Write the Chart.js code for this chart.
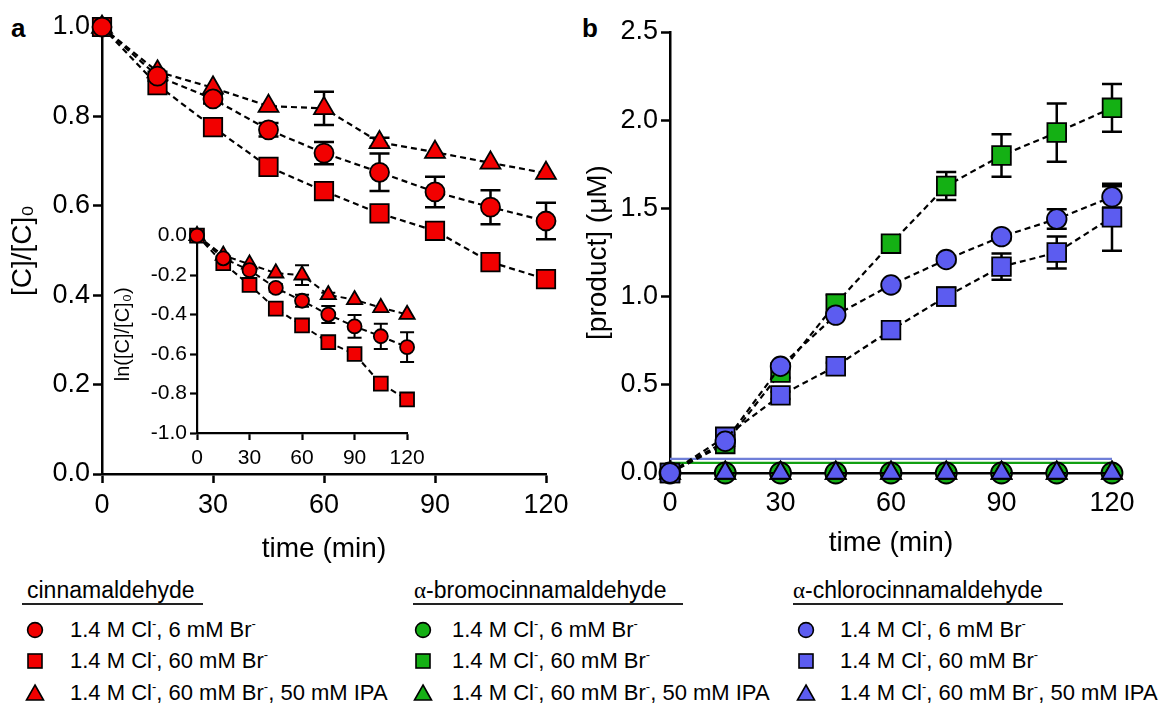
<!DOCTYPE html>
<html><head><meta charset="utf-8">
<script src="https://cdn.jsdelivr.net/npm/chart.js@4.4.1/dist/chart.umd.min.js"></script>
<style>
body{margin:0;background:#fff;width:1167px;height:715px;position:relative;overflow:hidden;font-family:"Liberation Sans",Arial,sans-serif;color:#000;}
canvas{position:absolute;}
.lbl{position:absolute;font-weight:bold;font-size:26px;line-height:30px;}
.hdr{position:absolute;font-size:23px;line-height:26px;white-space:nowrap;}
.ul{position:absolute;height:1.5px;background:#222;}
.item{position:absolute;font-size:22px;line-height:24px;white-space:nowrap;}
.item sup{font-size:13px;vertical-align:9px;line-height:0;}
.mk{position:absolute;}
.alpha{font-family:"Liberation Serif","Times New Roman",serif;}
</style></head>
<body>
<div class="lbl" style="left:11px;top:13px">a</div>
<div class="lbl" style="left:582px;top:13px">b</div>
<canvas id="chartA" width="583" height="570" style="left:0;top:0"></canvas>
<canvas id="chartInset" width="330" height="255" style="left:100px;top:220px"></canvas>
<canvas id="chartB" width="592" height="570" style="left:575px;top:0"></canvas>
<div id="legend"></div>
<script>
const FONT = '"Liberation Sans", Arial, sans-serif';
const RED = '#f20000', GREEN = '#14b014', BLUE = '#5c5cf0';

// ---- data ----
const times = [0, 15, 30, 45, 60, 75, 90, 105, 120];
// panel a: [C]/[C]0 for cinnamaldehyde
const cinCircle    = [1.0, 0.89, 0.839, 0.77, 0.718, 0.675, 0.631, 0.597, 0.566];
const cinCircleErr = [0, 0.01, 0.01, 0.015, 0.025, 0.042, 0.034, 0.038, 0.041];
const cinSquare    = [1.0, 0.87, 0.776, 0.687, 0.633, 0.583, 0.544, 0.474, 0.436];
const cinSquareErr = [0, 0, 0, 0, 0, 0, 0, 0, 0];
const cinTri       = [1.0, 0.90, 0.864, 0.823, 0.818, 0.742, 0.72, 0.696, 0.673];
const cinTriErr    = [0, 0, 0, 0, 0.037, 0.01, 0, 0, 0];
// inset: ln([C]/[C]0)
const lnCircle    = [0, -0.115, -0.175, -0.265, -0.33, -0.40, -0.46, -0.51, -0.565];
const lnCircleErr = [0, 0, 0, 0.02, 0.03, 0.043, 0.058, 0.064, 0.075];
const lnSquare    = [0, -0.14, -0.25, -0.37, -0.455, -0.54, -0.60, -0.75, -0.83];
const lnSquareErr = [0, 0, 0, 0, 0, 0, 0, 0, 0];
const lnTri       = [0, -0.10, -0.145, -0.19, -0.20, -0.30, -0.325, -0.365, -0.40];
const lnTriErr    = [0, 0, 0, 0, 0.05, 0.01, 0, 0, 0];
// panel b: [product] (uM)
const brSquare    = [0, 0.165, 0.57, 0.96, 1.30, 1.627, 1.80, 1.93, 2.07];
const brSquareErr = [0, 0.02, 0.03, 0.05, 0.04, 0.08, 0.12, 0.165, 0.135];
const brCircle    = [0, 0, 0, 0, 0, 0, 0, 0, 0];
const brTri       = [0, 0, 0, 0, 0, 0, 0, 0, 0];
const clCircle    = [0, 0.18, 0.605, 0.895, 1.066, 1.21, 1.34, 1.44, 1.565];
const clCircleErr = [0, 0, 0, 0, 0, 0.02, 0.02, 0.055, 0.06];
const clSquare    = [0, 0.205, 0.44, 0.605, 0.81, 1.0, 1.17, 1.25, 1.45];
const clSquareErr = [0, 0.02, 0.02, 0.02, 0.03, 0.05, 0.075, 0.09, 0.19];
const clTri       = [0, 0, 0, 0, 0, 0, 0, 0, 0];
const lodTimes = [0, 120];
const lodCl = [0.08, 0.08];
const lodBr = [0.057, 0.057];
// tick values
const timeTicks = [0, 30, 60, 90, 120];
const aTicks = [0, 0.2, 0.4, 0.6, 0.8, 1.0];
const insetTicks = [-1.0, -0.8, -0.6, -0.4, -0.2, 0.0];
const bTicks = [0, 0.5, 1.0, 1.5, 2.0, 2.5];
// legend
const groupNames = ['cinnamaldehyde', 'α-bromocinnamaldehyde', 'α-chlorocinnamaldehyde'];
const groupColors = [RED, GREEN, BLUE];
const conditionLabels = ['1.4 M Cl<sup>-</sup>, 6 mM Br<sup>-</sup>', '1.4 M Cl<sup>-</sup>, 60 mM Br<sup>-</sup>', '1.4 M Cl<sup>-</sup>, 60 mM Br<sup>-</sup>, 50 mM IPA'];
const conditionShapes = ['circle', 'rect', 'triangle'];

// ---- helpers ----
function pts(xs, vals) { return xs.map((t, i) => ({x: t, y: vals[i]})); }
function series(label, vals, errs, shape, color, r, extra) {
  return Object.assign({
    label, data: pts(times, vals), errors: errs,
    pointStyle: shape, pointRadius: r, pointHoverRadius: r,
    pointBackgroundColor: color, pointBorderColor: '#000', pointBorderWidth: 1.8,
    borderColor: '#000', borderWidth: 2.2, borderDash: [6, 4], showLine: true,
    fill: false, tension: 0, clip: false
  }, extra || {});
}
const errorBarPlugin = {
  id: 'errorBars',
  beforeDatasetsDraw(chart, args, opts) {
    const {ctx, scales: {x, y}} = chart;
    ctx.save();
    ctx.strokeStyle = '#000';
    ctx.lineWidth = opts.width || 2.5;
    chart.data.datasets.forEach(ds => {
      if (!ds.errors) return;
      ds.data.forEach((p, j) => {
        const e = ds.errors[j];
        if (!e) return;
        const px = x.getPixelForValue(p.x);
        const top = y.getPixelForValue(p.y + e), bot = y.getPixelForValue(p.y - e);
        ctx.beginPath();
        ctx.moveTo(px, top); ctx.lineTo(px, bot);
        ctx.moveTo(px - opts.cap, top); ctx.lineTo(px + opts.cap, top);
        ctx.moveTo(px - opts.cap, bot); ctx.lineTo(px + opts.cap, bot);
        ctx.stroke();
      });
    });
    ctx.restore();
  }
};
function axis(c) {
  return {
    type: 'linear', min: c.min, max: c.max,
    afterBuildTicks: s => { s.ticks = c.ticks.map(v => ({value: v})); },
    ticks: {color: '#000', font: {family: FONT, size: c.fs}, padding: c.tp, autoSkip: false, maxRotation: 0,
            callback: v => c.dec ? Number(v).toFixed(c.dec) : String(v)},
    grid: {display: true, drawOnChartArea: false, drawTicks: true, tickLength: c.tl, tickWidth: c.bw, tickColor: '#000'},
    border: {display: true, color: '#000', width: c.bw},
    title: {display: !!c.title, text: c.title, color: '#000', font: {family: FONT, size: c.tfs || c.fs}, padding: c.tpad || 0},
    afterFit: s => { if (c.w) s.width = c.w; if (c.h) s.height = c.h; }
  };
}
function baseOpts(pad, xCfg, yCfg, errOpts) {
  return {
    responsive: false, animation: false, devicePixelRatio: 1,
    layout: {padding: pad},
    plugins: {legend: {display: false}, tooltip: {enabled: false}, errorBars: errOpts},
    scales: {x: axis(xCfg), y: axis(yCfg)}
  };
}

// ---- panel a ----
new Chart(document.getElementById('chartA'), {
  type: 'line',
  data: {datasets: [
    series('cinnamaldehyde, 6 mM Br', cinCircle, cinCircleErr, 'circle', RED, 9.5),
    series('cinnamaldehyde, 60 mM Br', cinSquare, cinSquareErr, 'rect', RED, 13),
    series('cinnamaldehyde, 60 mM Br, IPA', cinTri, cinTriErr, 'triangle', RED, 11.5)
  ]},
  options: baseOpts({top: 27, right: 37, bottom: 0, left: 0},
    {min: 0, max: 120, ticks: timeTicks, fs: 27, tp: 6.8, tl: 9, bw: 2.5, h: 96, title: 'time (min)', tfs: 28, tpad: {top: 0, bottom: 4.2}},
    {min: 0, max: 1.0, ticks: aTicks, dec: 1, fs: 27, tp: 3, tl: 9, bw: 2.5, w: 102, title: '[C]/[C]₀', tfs: 28, tpad: {top: 6.2, bottom: 0}},
    {cap: 10, width: 2.5}),
  plugins: [errorBarPlugin]
});

// ---- inset ----
new Chart(document.getElementById('chartInset'), {
  type: 'line',
  data: {datasets: [
    series('ln cinnamaldehyde, 6 mM Br', lnCircle, lnCircleErr, 'circle', RED, 7, {borderWidth: 2}),
    series('ln cinnamaldehyde, 60 mM Br', lnSquare, lnSquareErr, 'rect', RED, 9.8, {borderWidth: 2}),
    series('ln cinnamaldehyde, 60 mM Br, IPA', lnTri, lnTriErr, 'triangle', RED, 8.8, {borderWidth: 2})
  ]},
  options: baseOpts({top: 13, right: 22, bottom: 0, left: 0},
    {min: 0, max: 120, ticks: timeTicks, fs: 21, tp: 5.4, tl: 7, bw: 2.2, h: 42},
    {min: -1.0, max: 0, ticks: insetTicks, dec: 1, fs: 21, tp: 3, tl: 7, bw: 2.2, w: 97, title: 'ln([C]/[C]₀)', tfs: 20, tpad: {top: 11, bottom: 0}},
    {cap: 7, width: 2}),
  plugins: [errorBarPlugin]
});

// ---- panel b ----
function lod(label, vals, color) {
  return {label, data: pts(lodTimes, vals), borderColor: color, borderWidth: 2.2, pointRadius: 0, showLine: true, fill: false, clip: false};
}
new Chart(document.getElementById('chartB'), {
  type: 'line',
  data: {datasets: [
    series('α-chloro, 6 mM Br', clCircle, clCircleErr, 'circle', BLUE, 9.8),
    series('α-chloro, 60 mM Br', clSquare, clSquareErr, 'rect', BLUE, 13.2),
    series('α-bromo, 60 mM Br', brSquare, brSquareErr, 'rect', GREEN, 13.2),
    series('α-chloro, 60 mM Br, IPA', clTri, null, 'triangle', BLUE, 11.5),
    series('α-bromo, 60 mM Br, IPA', brTri, null, 'triangle', GREEN, 11.5),
    series('α-bromo, 6 mM Br', brCircle, null, 'circle', GREEN, 10.5),
    lod('LOD α-chloro', lodCl, '#6f7fd8'),
    lod('LOD α-bromo', lodBr, '#12a012')
  ]},
  options: baseOpts({top: 32, right: 55, bottom: 0, left: 0},
    {min: 0, max: 120, ticks: timeTicks, fs: 27, tp: 5.8, tl: 9, bw: 2.5, h: 97, title: 'time (min)', tfs: 28, tpad: {top: 0, bottom: 10.2}},
    {min: 0, max: 2.5, ticks: bTicks, dec: 1, fs: 27, tp: 3, tl: 9, bw: 2.5, w: 95, title: '[product] (μM)', tfs: 28, tpad: {top: 6.2, bottom: 0}},
    {cap: 10, width: 2.5}),
  plugins: [errorBarPlugin]
});

// ---- legend (HTML) ----
function markerSVG(shape, color) {
  let inner;
  if (shape === 'circle') inner = `<circle cx="10" cy="10" r="7.4" fill="${color}" stroke="#000" stroke-width="1.6"/>`;
  else if (shape === 'rect') inner = `<rect x="3" y="3" width="14" height="14" fill="${color}" stroke="#000" stroke-width="1.6"/>`;
  else inner = `<polygon points="10,2 18.5,17 1.5,17" fill="${color}" stroke="#000" stroke-width="1.6" stroke-linejoin="miter"/>`;
  return `<svg width="20" height="20" viewBox="0 0 20 20">${inner}</svg>`;
}
const hdrLeft = [27, 414, 793], ulLeft = [22, 413, 793], ulWidth = [181, 270, 270];
const mkX = [35, 423, 806], txtLeft = [70, 452, 840];
const rowY = [630, 661, 693];
const leg = document.getElementById('legend');
let html = '';
groupNames.forEach((name, g) => {
  const nm = name.startsWith('α') ? `<span class="alpha">α</span>${name.slice(1)}` : name;
  html += `<div class="hdr" style="left:${hdrLeft[g]}px;top:577px">${nm}</div>`;
  html += `<div class="ul" style="left:${ulLeft[g]}px;top:603px;width:${ulWidth[g]}px"></div>`;
  conditionLabels.forEach((lab, r) => {
    html += `<div class="mk" style="left:${mkX[g] - 10}px;top:${rowY[r] - 10}px">${markerSVG(conditionShapes[r], groupColors[g])}</div>`;
    html += `<div class="item" style="left:${txtLeft[g]}px;top:${rowY[r] - 12}px">${lab}</div>`;
  });
});
leg.innerHTML = html;
</script>
</body></html>
